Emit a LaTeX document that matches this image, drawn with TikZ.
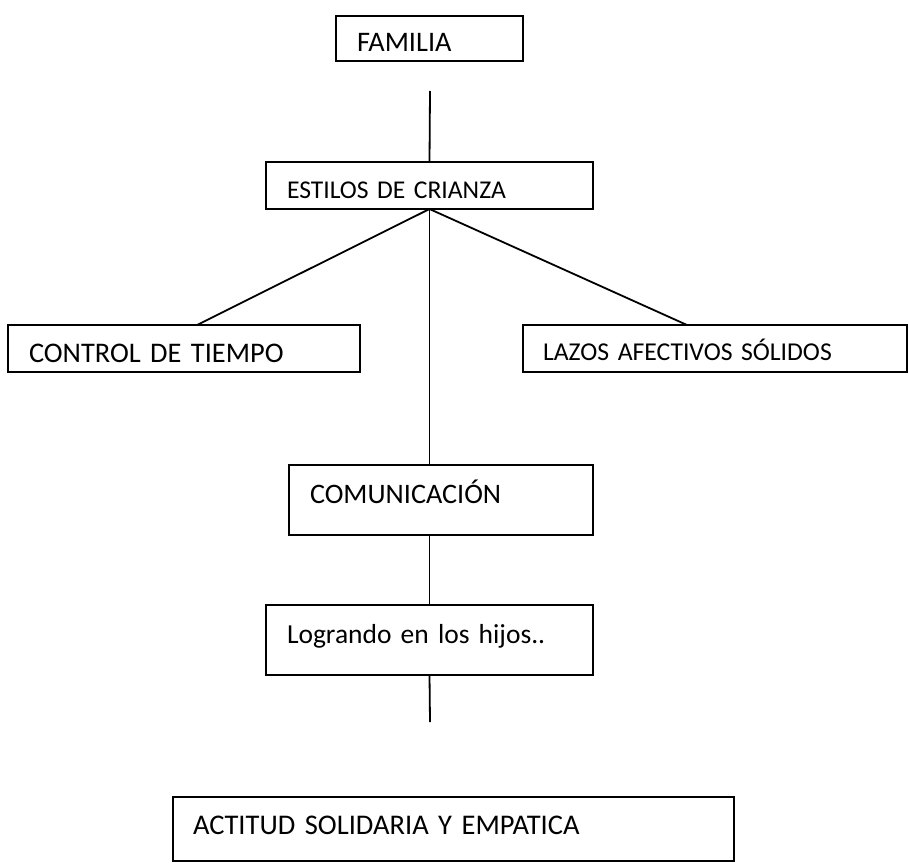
\documentclass[tikz,border=0pt]{standalone}
\usepackage{fontspec}
\setmainfont{Carlito}
\usepackage{tikz}
\usetikzlibrary{calc}

\tikzset{box/.style={draw, line width=1.8pt, anchor=north west, outer sep=0pt,
  inner ysep=0pt, align=left}}
\tikzset{link/.style={line width=1.8pt}}

\begin{document}
\begin{tikzpicture}[x=1pt,y=-1pt]
\useasboundingbox (0,0) rectangle (909,862);
\node[box, inner xsep=21pt, text width=145pt, text height=35pt, text depth=10pt,
  font=\fontsize{28.3}{34}\selectfont] (familia) at (336,16) {FAMILIA};
\node[box, inner xsep=21pt, text width=285pt, text height=36pt, text depth=11pt,
  font=\fontsize{25.6}{31}\selectfont] (estilos) at (266,162) {ESTILOS DE CRIANZA};
\node[box, inner xsep=21pt, text width=310pt, text height=37pt, text depth=10pt,
  font=\fontsize{28.4}{34}\selectfont] (control) at (8,325) {CONTROL DE TIEMPO};
\node[box, inner xsep=20pt, text width=344pt, text height=35pt, text depth=12pt,
  font=\fontsize{25.7}{31}\selectfont] (lazos) at (523,325) {LAZOS AFECTIVOS SÓLIDOS};
\node[box, inner xsep=21pt, text width=262pt, text height=38pt, text depth=32pt,
  font=\fontsize{28.2}{34}\selectfont] (comunica) at (289,465) {COMUNICACIÓN};
\node[box, inner xsep=21pt, text width=285pt, text height=38pt, text depth=32pt,
  font=\fontsize{27.5}{33}\selectfont] (logrando) at (266,605) {Logrando en los hijos..};
\node[box, inner xsep=20pt, text width=521pt, text height=37pt, text depth=27pt,
  font=\fontsize{28.5}{34}\selectfont] (actitud) at (173,797) {ACTITUD SOLIDARIA Y EMPATICA};

\coordinate (famtail) at (430,91);
\coordinate (logtail) at (430,722);
\draw[link] (famtail) -- (estilos.north);
\draw[link] (estilos.south) -- ($(control.north west)+(189,0)$);
\draw[link] (estilos.south) -- ($(lazos.north west)+(164,0)$);
\draw[link] (estilos.south) -- (estilos.south |- comunica.north);
\draw[link] (estilos.south |- comunica.south) -- (estilos.south |- logrando.north);
\draw[link] (estilos.south |- logrando.south) -- (logtail);
\end{tikzpicture}
\end{document}
